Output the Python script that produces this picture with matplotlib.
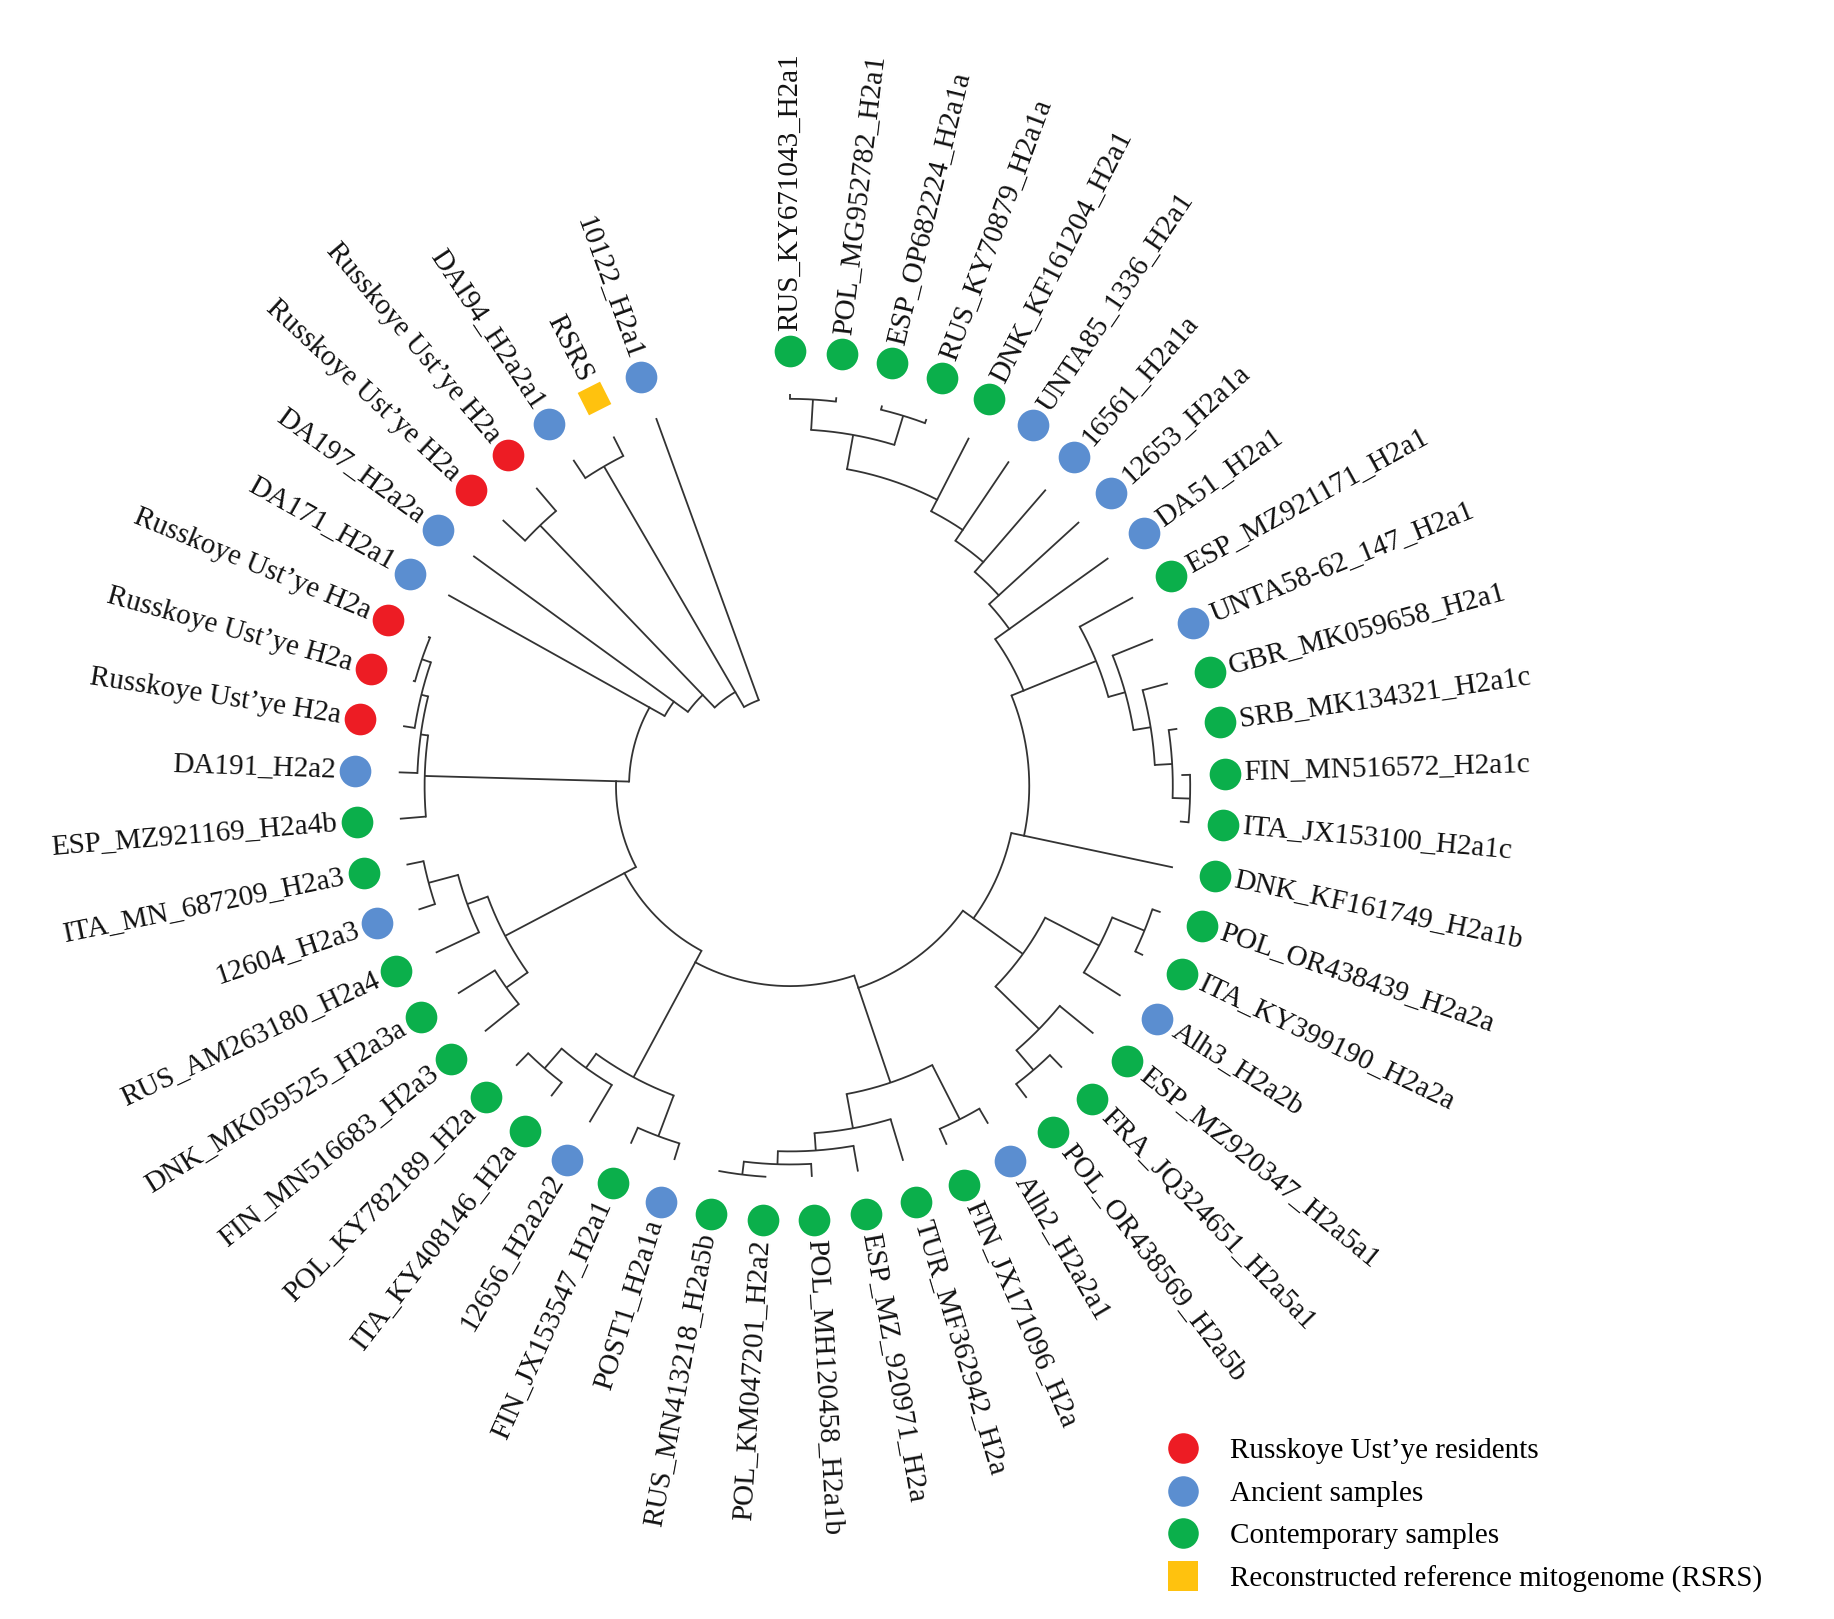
import numpy as np
import matplotlib
matplotlib.use("Agg")
import matplotlib.pyplot as plt
from matplotlib.lines import Line2D

# ---------------------------------------------------------------- dati
LABELS = [
    "10122_H2a1", "RSRS", "DAI94_H2a2a1", "Russkoye Ust\u2019ye H2a", "Russkoye Ust\u2019ye H2a",
    "DA197_H2a2a", "DA171_H2a1", "Russkoye Ust\u2019ye H2a", "Russkoye Ust\u2019ye H2a",
    "Russkoye Ust\u2019ye H2a", "DA191_H2a2", "ESP_MZ921169_H2a4b", "ITA_MN_687209_H2a3",
    "12604_H2a3", "RUS_AM263180_H2a4", "DNK_MK059525_H2a3a", "FIN_MN516683_H2a3",
    "POL_KY782189_H2a", "ITA_KY408146_H2a", "12656_H2a2a2", "FIN_JX153547_H2a1",
    "POST1_H2a1a", "RUS_MN413218_H2a5b", "POL_KM047201_H2a2", "POL_MH120458_H2a1b",
    "ESP_MZ_920971_H2a", "TUR_MF362942_H2a", "FIN_JX171096_H2a", "Alh2_H2a2a1",
    "POL_OR438569_H2a5b", "FRA_JQ324651_H2a5a1", "ESP_MZ920347_H2a5a1", "Alh3_H2a2b",
    "ITA_KY399190_H2a2a", "POL_OR438439_H2a2a", "DNK_KF161749_H2a1b", "ITA_JX153100_H2a1c",
    "FIN_MN516572_H2a1c", "SRB_MK134321_H2a1c", "GBR_MK059658_H2a1", "UNTA58-62_147_H2a1",
    "ESP_MZ921171_H2a1", "DA51_H2a1", "12653_H2a1a", "16561_H2a1a", "UNTA85_1336_H2a1",
    "DNK_KF161204_H2a1", "RUS_KY70879_H2a1a", "ESP_OP682224_H2a1a", "POL_MG952782_H2a1",
    "RUS_KY671043_H2a1",
]
# r = Russkoye Ust'ye, a = antichi, c = contemporanei, s = RSRS
GROUP = list("bsbrrbbrrrbccbcccccbcbcccccccbcccbcccccccbcbbbbbcccc")[:51]
GROUP = ["b", "s", "b", "r", "r", "b", "b", "r", "r", "r", "b", "c", "c", "b", "c", "c", "c",
         "c", "c", "b", "c", "b", "c", "c", "c", "c", "c", "c", "b", "c", "c", "c", "b", "c",
         "c", "c", "c", "c", "c", "c", "b", "c", "b", "b", "b", "b", "c", "c", "c", "c", "c"]

# cladi laterali lungo la "scala" (raggio nodo, figli); foglie = indice
SIDE = [
    0,
    (0.85, [1, 2]),
    (0.83, [3, 4]),
    5,
    6,
    (0.84, [(0.857, [(0.873, [(0.895, [7, 8]), 9]), 10]), 11]),
    (0.74, [(0.79, [(0.86, [12, 13]), 14]), (0.80, [15, 16])]),
    (0.76, [(0.80, [(0.86, [17, 18]), 19]), (0.86, [20, 21])]),
    (0.72, [(0.80, [(0.84, [(0.87, [(0.90, [22, 23]), 24]), 25]), 26]), (0.86, [27, 28])]),
    (0.66, [(0.80, [(0.86, [29, 30]), 31]), (0.80, [32, (0.88, [33, 34])])]),
    35,
    (0.76, [(0.80, [(0.84, [(0.88, [(0.92, [36, 37]), 38]), 39]), 40]), 41]),
    42, 43, 44, 45, 46,
    (0.82, [(0.89, [47, 48]), (0.89, [49, 50])]),
]
SPINE_R = [0.21, 0.25, 0.29, 0.33, 0.37, 0.40, 0.43, 0.46, 0.49, 0.52, 0.55, 0.58,
           0.62, 0.65, 0.68, 0.71, 0.74]

COLORS = {"r": "#ED1C24", "b": "#5B8ED0", "c": "#0BAF4B", "s": "#FFC20E"}
LEGEND = [("r", "Russkoye Ust\u2019ye residents"), ("b", "Ancient samples"),
          ("c", "Contemporary samples"), ("s", "Reconstructed reference mitogenome (RSRS)")]

START, STEP = 110.0, 6.8
TIP, DOT, TXT = 0.9, 1.0, 1.045
LC, LW = "#333333", 1.3
FONT = "Liberation Serif"

# ---------------------------------------------------------------- disegno
fig = plt.figure(figsize=(18.34, 16.19), dpi=100)
ax = fig.add_axes([0, 0, 1, 1])
R = 435.0
ax.set_xlim(-790 / R, 1044 / R)
ax.set_ylim(-(1619 - 786) / R, 786 / R)
ax.set_axis_off()


def leaf_ang(i):
    return START + STEP * i


def radial(a, r0, r1):
    t = np.radians(a)
    ax.plot([r0 * np.cos(t), r1 * np.cos(t)], [r0 * np.sin(t), r1 * np.sin(t)],
            color=LC, lw=LW, solid_capstyle="butt")


def arc(r, a0, a1):
    t = np.radians(np.linspace(min(a0, a1), max(a0, a1), 200))
    ax.plot(r * np.cos(t), r * np.sin(t), color=LC, lw=LW)


def info(node):
    if isinstance(node, int):
        return leaf_ang(node), TIP
    angs = [info(c)[0] for c in node[1]]
    return float(np.mean(angs)), node[0]


def draw(node):
    if isinstance(node, int):
        return
    r = node[0]
    angs = []
    for c in node[1]:
        a, rc = info(c)
        radial(a, r, rc)
        draw(c)
        angs.append(a)
    arc(r, min(angs), max(angs))


# scala principale: ogni nodo si aggancia al primo figlio
n = len(SIDE)
for k in range(n - 1):
    a_k, r_k = info(SIDE[k])
    a_next, r_next = info(SIDE[k + 1])
    rk = SPINE_R[k]
    radial(a_k, rk, r_k)
    draw(SIDE[k])
    arc(rk, a_k, a_next)
    if k + 1 < n - 1:
        radial(a_next, rk, SPINE_R[k + 1])
    else:
        radial(a_next, rk, r_next)
        draw(SIDE[k + 1])

for i, (lab, g) in enumerate(zip(LABELS, GROUP)):
    a = leaf_ang(i)
    t = np.radians(a)
    x, y = DOT * np.cos(t), DOT * np.sin(t)
    if g == "s":
        ax.scatter([x], [y], marker=(4, 0, a + 45), s=650, c=COLORS[g], zorder=5, linewidths=0)
    else:
        ax.scatter([x], [y], marker="o", s=520, c=COLORS[g], zorder=5, linewidths=0)
    ca = np.cos(t)
    rot = a % 360
    if ca >= 0:
        ha = "left"
        rot = rot if rot <= 90 else rot - 360
    else:
        ha = "right"
        rot = rot - 180
    ax.text(TXT * np.cos(t), TXT * np.sin(t), lab, rotation=rot, rotation_mode="anchor",
            ha=ha, va="center", fontsize=21, family=FONT, color="#111111")

handles = [Line2D([], [], marker="s" if g == "s" else "o", ls="", ms=22, color=COLORS[g],
                  markeredgewidth=0) for g, _ in LEGEND]
fig.legend(handles, [t for _, t in LEGEND], loc="lower left",
           bbox_to_anchor=(1128 / 1834, 0.0), frameon=False, handletextpad=0.6,
           labelspacing=0.55, prop={"family": FONT, "size": 21})

fig.savefig("out.png", dpi=100)
